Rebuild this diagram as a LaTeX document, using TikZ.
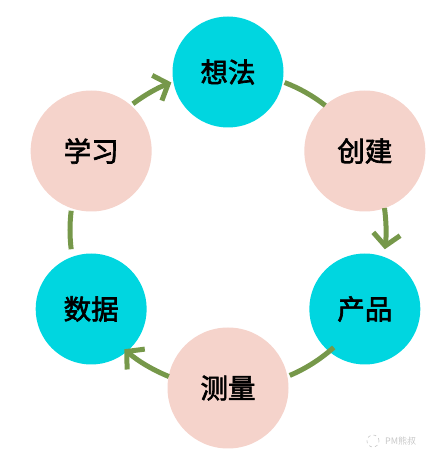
\documentclass[tikz,border=0pt]{standalone}
\usepackage{fontspec}
\newfontfamily\cjk{Noto Sans CJK SC}
\newfontfamily\cjkmid{Noto Sans CJK SC}[FakeBold=2.3]
\usetikzlibrary{arrows.meta,calc}
\definecolor{cyanfill}{HTML}{00D6E0}
\definecolor{pinkfill}{HTML}{F5D3CB}
\definecolor{flowgreen}{HTML}{76984A}
\definecolor{wmgray}{HTML}{C8C8C8}
\tikzset{
  cyannode/.style={circle,fill=cyanfill,minimum size=111pt,inner sep=0pt,font=\cjkmid\fontsize{27.5}{30}\selectfont},
  pinknode/.style={circle,fill=pinkfill,minimum size=121pt,inner sep=0pt,font=\cjkmid\fontsize{27.5}{30}\selectfont},
  flow/.style={draw=flowgreen,line width=5pt},
  flowarrow/.style={flow,-{Straight Barb[length=12pt,width=27pt]}},
}
\begin{document}
\begin{tikzpicture}[x=1pt,y=1pt]
\useasboundingbox (0,0) rectangle (436,459);
\coordinate (O) at (228,229);
\node[cyannode] (xiangfa) at ([shift={(90:158)}]O) {想法};
\node[pinknode] (chuangjian) at ([shift={(30:158)}]O) {创建};
\node[cyannode] (chanpin) at ([shift={(-30:158)}]O) {产品};
\node[pinknode] (celiang) at ([shift={(-90:158)}]O) {测量};
\node[cyannode] (shuju) at ([shift={(-150:158)}]O) {数据};
\node[pinknode] (xuexi) at ([shift={(150:158)}]O) {学习};
% connectors along the ring (clockwise)
\draw[flowarrow] ([shift={(127:158)}]O) arc[start angle=127,end angle=111,radius=158];
\draw[flow] ([shift={(69:158)}]O) arc[start angle=69,end angle=52,radius=158];
\draw[flowarrow] ([shift={(8:158)}]O) arc[start angle=8,end angle=-7,radius=158];
\draw[flow] ([shift={(-48:158)}]O) arc[start angle=-48,end angle=-67,radius=158];
\draw[flowarrow] ([shift={(-112:158)}]O) arc[start angle=-112,end angle=-131,radius=158];
\draw[flow] ([shift={(187:158)}]O) arc[start angle=187,end angle=173,radius=158];
% watermark
\node[draw=wmgray,dashed,circle,minimum size=12pt,inner sep=0pt,line width=0.6pt] (wmicon) at (373,18) {};
\node[anchor=west,text=wmgray,font=\cjk\fontsize{9}{10}\selectfont,inner sep=0pt] (wmtext) at (385,18) {PM熊叔};
\end{tikzpicture}
\end{document}
